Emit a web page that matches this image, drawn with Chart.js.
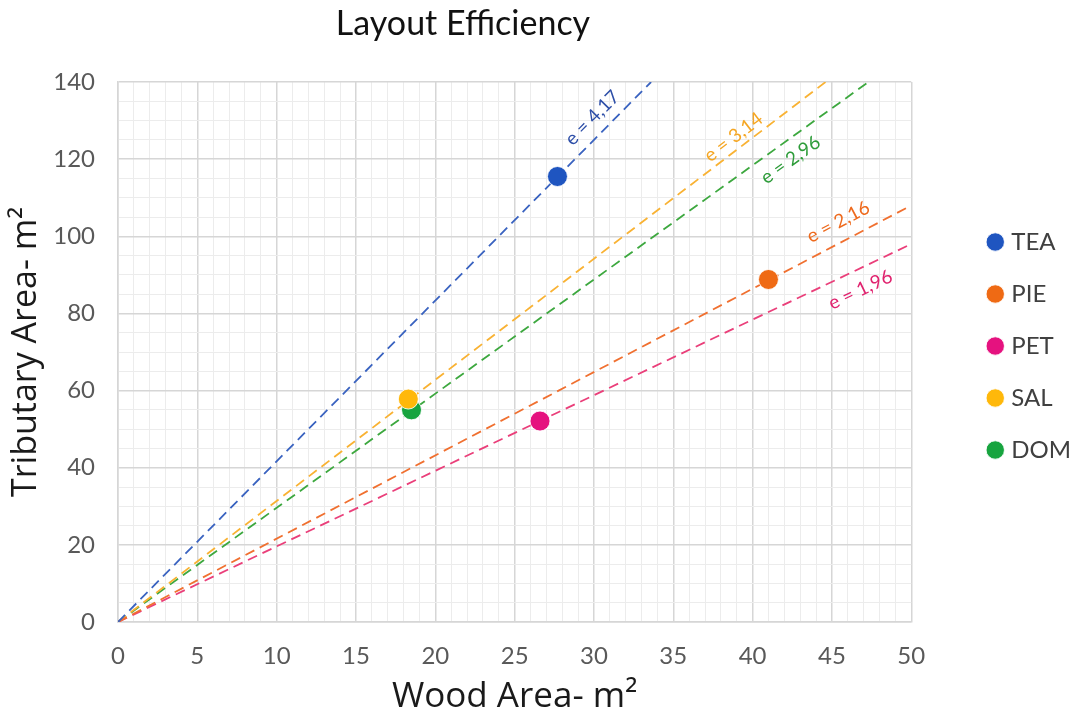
<!DOCTYPE html>
<html><head><meta charset="utf-8">
<script src="https://cdn.jsdelivr.net/npm/chart.js@4"></script>
<style>html,body{margin:0;padding:0;background:#fff;}#wrap{width:1079px;height:718px;position:relative;}</style>
</head><body><div id="wrap"><canvas id="c"></canvas></div>
<script>
const chartTitle = 'Layout Efficiency';
const xAxisTitle = 'Wood Area- m²';
const yAxisTitle = 'Tributary Area- m²';
const seriesNames = ['TEA', 'PIE', 'PET', 'SAL', 'DOM'];
const woodArea = [27.7, 41.0, 26.6, 18.3, 18.5];
const tributaryArea = [115.5, 88.8, 52.1, 57.8, 55.0];
const efficiencyLabels = ['e = 4,17', 'e = 2,16', 'e = 1,96', 'e = 3,14', 'e = 2,96'];
const lineEndX = [33.6, 50, 50, 44.6, 47.3];
const lineEndY = [140, 108, 98, 140, 140];
const labelAnchorX = [29.9, 45.4, 46.8, 38.8, 42.4];
const labelAnchorY = [130.7, 103.7, 86.1, 125.7, 119.8];
const xTickLabels = [0, 5, 10, 15, 20, 25, 30, 35, 40, 45, 50];
const yTickLabels = [0, 20, 40, 60, 80, 100, 120, 140];

const pointColors = ['#1F55C0', '#EF6A14', '#E5127F', '#FFB80A', '#17A43F'];
const lineColors = ['#3A63C0', '#F07030', '#EA3F7A', '#F9B233', '#3DA83F'];
const labelColors = ['#2E4FA8', '#EE6A1D', '#E0226E', '#F5A623', '#2E9C3A'];
const FONT = 'Lato, "Open Sans", sans-serif';
const AXIS_FONT = '"Open Sans", Lato, sans-serif';

const datasets = [];
seriesNames.forEach((n, i) => {
  datasets.push({
    label: n,
    data: [{x: woodArea[i], y: tributaryArea[i]}],
    backgroundColor: pointColors[i],
    borderColor: 'rgba(255,255,255,0.85)',
    borderWidth: 1,
    pointRadius: 10,
    pointHoverRadius: 10
  });
});
seriesNames.forEach((n, i) => {
  datasets.push({
    label: n + ' line',
    data: [{x: 0, y: 0}, {x: lineEndX[i], y: lineEndY[i]}],
    showLine: true,
    borderColor: lineColors[i],
    backgroundColor: lineColors[i],
    borderWidth: 1.8,
    borderDash: [10, 6],
    pointRadius: 0,
    pointHoverRadius: 0,
    fill: false
  });
});

const titlePlugin = {
  id: 'titlePlugin',
  afterDraw(chart) {
    const ctx = chart.ctx;
    ctx.save();
    ctx.font = '34px ' + FONT;
    ctx.fillStyle = '#111111';
    ctx.textAlign = 'center';
    ctx.textBaseline = 'middle';
    ctx.fillText(chartTitle, 463, 24);
    ctx.restore();
  }
};

const legendNudge = {
  id: 'legendNudge',
  afterLayout(chart) {
    const lg = chart.legend;
    if (!lg) return;
    lg.top -= 6; lg.bottom -= 6;
    lg.left += 2; lg.right += 2;
  }
};

const lineLabelPlugin = {
  id: 'lineLabels',
  afterDatasetsDraw(chart) {
    const ctx = chart.ctx;
    const xs = chart.scales.x, ys = chart.scales.y;
    ctx.save();
    seriesNames.forEach((n, i) => {
      const x0 = xs.getPixelForValue(0), y0 = ys.getPixelForValue(0);
      const x1 = xs.getPixelForValue(lineEndX[i]), y1 = ys.getPixelForValue(lineEndY[i]);
      const ang = Math.atan2(y1 - y0, x1 - x0);
      const px = xs.getPixelForValue(labelAnchorX[i]);
      const py = ys.getPixelForValue(labelAnchorY[i]);
      ctx.save();
      ctx.translate(px, py);
      ctx.rotate(ang);
      ctx.font = '19px ' + FONT;
      ctx.fillStyle = labelColors[i];
      ctx.textAlign = 'center';
      ctx.textBaseline = 'middle';
      ctx.fillText(efficiencyLabels[i], 0, 0);
      ctx.restore();
    });
    ctx.restore();
  }
};

new Chart(document.getElementById('c'), {
  type: 'scatter',
  data: { datasets },
  plugins: [titlePlugin, lineLabelPlugin, legendNudge],
  options: {
    responsive: true,
    maintainAspectRatio: false,
    animation: false,
    layout: { padding: { top: 82, right: 0, left: 0, bottom: 0 } },
    plugins: {
      tooltip: { enabled: false },
      title: { display: false },
      legend: {
        position: 'right',
        align: 'center',
        fullSize: false,
        maxWidth: 118,
        labels: {
          filter: (item) => item.datasetIndex < seriesNames.length,
          usePointStyle: true,
          pointStyle: 'circle',
          boxWidth: 8,
          boxHeight: 13,
          padding: 28,
          color: '#404040',
          font: { family: FONT, size: 24 }
        }
      }
    },
    scales: {
      x: {
        type: 'linear',
        min: 0, max: 50,
        afterFit: (s) => { s.height = 96; },
        ticks: {
          stepSize: 1,
          autoSkip: false,
          maxRotation: 0,
          padding: 20,
          color: '#595959',
          font: { family: FONT, size: 24 },
          callback: (v) => xTickLabels.includes(v) ? String(v) : ''
        },
        grid: {
          drawTicks: false,
          color: (c) => (c.tick && xTickLabels.includes(c.tick.value)) ? '#D6D6D6' : '#ECECEC',
          lineWidth: (c) => (c.tick && xTickLabels.includes(c.tick.value)) ? 1.5 : 1
        },
        border: { display: true, color: '#D6D6D6', width: 1.5 },
        title: {
          display: true,
          text: xAxisTitle,
          color: '#1A1A1A',
          font: { family: AXIS_FONT, size: 35 },
          padding: { top: 0, bottom: 0 }
        }
      },
      y: {
        type: 'linear',
        min: 0, max: 140,
        afterFit: (s) => { s.width = 118; },
        ticks: {
          stepSize: 5,
          autoSkip: false,
          padding: 23,
          color: '#595959',
          font: { family: FONT, size: 24 },
          callback: (v) => yTickLabels.includes(v) ? String(v) : ''
        },
        grid: {
          drawTicks: false,
          color: (c) => (c.tick && yTickLabels.includes(c.tick.value)) ? '#D6D6D6' : '#ECECEC',
          lineWidth: (c) => (c.tick && yTickLabels.includes(c.tick.value)) ? 1.5 : 1
        },
        border: { display: true, color: '#D6D6D6', width: 1.5 },
        title: {
          display: true,
          text: yAxisTitle,
          color: '#1A1A1A',
          font: { family: AXIS_FONT, size: 34 },
          padding: { top: 6, bottom: 0 }
        }
      },
      yGap: {
        type: 'linear',
        position: 'right',
        display: true,
        afterFit: (s) => { s.width = 50; },
        grid: { display: false, drawOnChartArea: false, drawTicks: false },
        ticks: { display: false },
        border: { display: false },
        title: { display: false }
      }
    }
  }
});
</script></body></html>
